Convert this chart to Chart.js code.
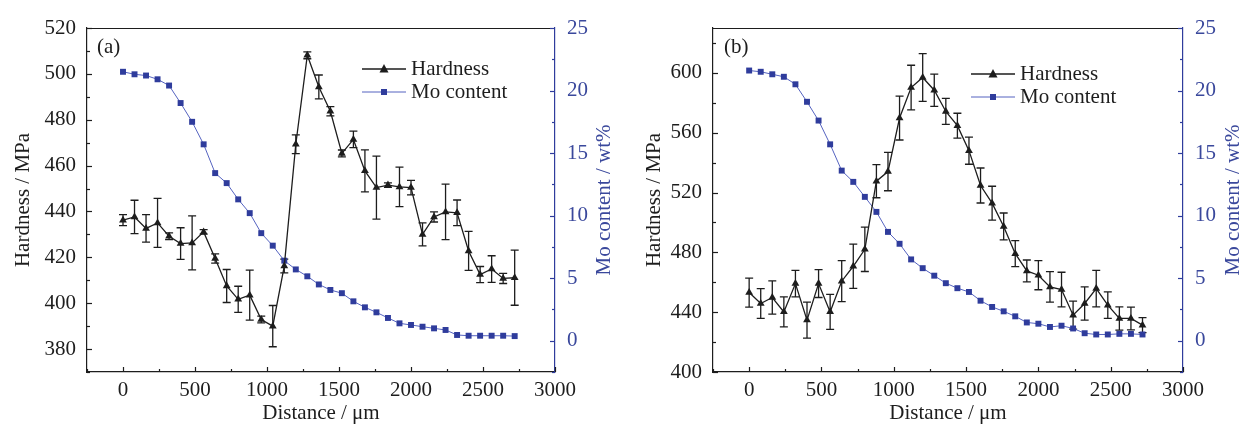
<!DOCTYPE html>
<html>
<head>
<meta charset="utf-8">
<title>Hardness and Mo content vs distance</title>
<script src="https://cdn.jsdelivr.net/npm/chart.js@4.4.1/dist/chart.umd.min.js"></script>
<style>
  html, body { margin: 0; padding: 0; background: #fff; }
  #wrap { position: relative; width: 1244px; height: 426px; overflow: hidden; }
  .panel { position: absolute; top: 0; width: 622px; height: 426px; }
  #panel-a { left: 0; }
  #panel-b { left: 622px; }
</style>
</head>
<body>
<div id="wrap">
  <div class="panel" id="panel-a"><canvas id="chart-a" width="622" height="426"></canvas></div>
  <div class="panel" id="panel-b"><canvas id="chart-b" width="622" height="426"></canvas></div>
</div>
<script>
// ---- data ----
const distance = [0, 80, 160, 240, 320, 400, 480, 560, 640, 720, 800, 880, 960, 1040, 1120,
  1200, 1280, 1360, 1440, 1520, 1600, 1680, 1760, 1840, 1920, 2000, 2080, 2160, 2240, 2320,
  2400, 2480, 2560, 2640, 2720];

// panel (a)
const hardnessA = [436.2, 437.6, 432.6, 435.0, 429.2, 426.0, 426.3, 431.1, 419.5, 407.5, 401.7,
  403.5, 392.9, 390.0, 416.2, 469.3, 508.1, 494.3, 483.7, 465.3, 471.4, 457.7, 450.4, 451.5,
  450.7, 450.4, 430.0, 437.6, 439.8, 439.4, 422.8, 412.5, 414.9, 410.8, 411.1];
const hardnessErrA = [2.4, 7.3, 6.0, 10.7, 1.5, 6.9, 11.8, 1.0, 2.0, 7.2, 5.7, 10.9, 1.5, 9.0,
  3.0, 4.1, 1.5, 5.2, 2.0, 1.5, 3.6, 9.2, 13.7, 1.0, 8.6, 3.2, 5.0, 2.2, 12.1, 5.6, 8.5, 3.5,
  5.8, 2.2, 12.0];
const moA = [21.5, 21.3, 21.2, 20.9, 20.4, 19.0, 17.5, 15.7, 13.4, 12.6, 11.3, 10.2, 8.6, 7.6,
  6.4, 5.7, 5.15, 4.5, 4.06, 3.8, 3.15, 2.67, 2.27, 1.82, 1.39, 1.26, 1.12, 0.99, 0.86, 0.46,
  0.4, 0.4, 0.4, 0.4, 0.37];

// panel (b)
const hardnessB = [453.1, 445.8, 449.8, 440.2, 459.1, 434.7, 459.1, 440.2, 460.7, 470.7, 482.0,
  527.6, 534.0, 569.8, 590.2, 596.9, 588.4, 574.2, 564.7, 548.0, 524.7, 512.9, 497.3, 479.1,
  467.6, 464.7, 456.9, 455.1, 438.0, 445.8, 455.8, 444.7, 435.8, 435.8, 431.3];
const hardnessErrB = [9.7, 10.0, 11.1, 10.0, 8.9, 12.0, 9.3, 11.7, 13.7, 14.8, 14.8, 11.1, 12.8,
  14.7, 14.9, 16.0, 10.8, 8.7, 8.3, 9.1, 11.7, 11.3, 9.0, 8.7, 7.3, 9.7, 10.2, 11.6, 9.4, 11.1,
  12.2, 8.9, 7.8, 7.6, 5.0];
const moB = [21.6, 21.5, 21.3, 21.1, 20.5, 19.1, 17.6, 15.7, 13.6, 12.7, 11.5, 10.3, 8.7, 7.75,
  6.5, 5.8, 5.2, 4.6, 4.2, 3.9, 3.2, 2.7, 2.35, 1.95, 1.46, 1.36, 1.1, 1.2, 0.98, 0.6, 0.5,
  0.5, 0.55, 0.55, 0.5];

// tick labels
const xTickValues = [0, 500, 1000, 1500, 2000, 2500, 3000];
const hardTicksA = [380, 400, 420, 440, 460, 480, 500, 520];
const hardTicksB = [400, 440, 480, 520, 560, 600];
const moTicks = [0, 5, 10, 15, 20, 25];

// ---- styling ----
const FONT = "'Liberation Serif', 'Times New Roman', serif";
const INK = "#1d1d1d";
const BLUE = "#2f3c9c";
const BLUE_LINE = "#5563c0";
const BLUE_TEXT = "#3a489c";

// error bars stored on the dataset (dataset.errors)
const errorBars = {
  id: "errorBars",
  beforeDatasetsDraw(chart) {
    const ctx = chart.ctx;
    chart.data.datasets.forEach((ds, di) => {
      if (!ds.errors) return;
      const meta = chart.getDatasetMeta(di);
      const ys = chart.scales[ds.yAxisID];
      ctx.save();
      ctx.strokeStyle = INK;
      ctx.lineWidth = 1.3;
      meta.data.forEach((pt, i) => {
        const v = ds.data[i].y, e = ds.errors[i];
        const top = ys.getPixelForValue(v + e), bot = ys.getPixelForValue(v - e);
        ctx.beginPath();
        ctx.moveTo(pt.x, top); ctx.lineTo(pt.x, bot);
        ctx.moveTo(pt.x - 4, top); ctx.lineTo(pt.x + 4, top);
        ctx.moveTo(pt.x - 4, bot); ctx.lineTo(pt.x + 4, bot);
        ctx.stroke();
      });
      ctx.restore();
    });
  },
};

// top border + inward major/minor tick marks
const frameTicks = {
  id: "frameTicks",
  afterDraw(chart, args, opts) {
    const { ctx, chartArea: a } = chart;
    ctx.save();
    ctx.lineWidth = 1.2;
    ctx.strokeStyle = INK;
    ctx.beginPath();
    ctx.moveTo(a.left, a.top + 0.5);
    ctx.lineTo(a.right, a.top + 0.5);
    ctx.stroke();
    Object.keys(opts.minor).forEach(id => {
      const s = chart.scales[id];
      const step = opts.minor[id];
      ctx.strokeStyle = id === "y1" ? BLUE : INK;
      for (let v = Math.ceil(s.min / step) * step; v <= s.max + 1e-9; v += step) {
        const major = s.ticks.some(t => Math.abs(t.value - v) < 1e-6);
        const len = major ? 5 : 3;
        const p = Math.round(s.getPixelForValue(v)) + 0.5;
        ctx.beginPath();
        if (id === "x") { ctx.moveTo(p, a.bottom); ctx.lineTo(p, a.bottom - len); }
        else if (id === "y") { ctx.moveTo(a.left, p); ctx.lineTo(a.left + len, p); }
        else { ctx.moveTo(a.right, p); ctx.lineTo(a.right - len, p); }
        ctx.stroke();
      }
    });
    ctx.restore();
  },
};

// panel letter, legend inside the plot, and the right-hand axis title
// (Chart.js turns right titles the other way, so it is drawn here)
const panelLegend = {
  id: "panelLegend",
  afterDraw(chart, args, opts) {
    const { ctx, chartArea: a } = chart;
    ctx.save();
    ctx.font = `21px ${FONT}`;
    ctx.textBaseline = "middle";
    ctx.fillStyle = INK;
    ctx.fillText(opts.label, opts.labelX, opts.labelY);
    chart.data.datasets.forEach((ds, i) => {
      const y = opts.y + i * opts.gap;
      const x0 = opts.x, x1 = opts.x + 44, cx = (x0 + x1) / 2;
      ctx.strokeStyle = ds.borderColor;
      ctx.lineWidth = ds.borderWidth;
      ctx.beginPath(); ctx.moveTo(x0, y); ctx.lineTo(x1, y); ctx.stroke();
      ctx.fillStyle = ds.pointBackgroundColor;
      ctx.beginPath();
      if (ds.pointStyle === "triangle") {
        ctx.moveTo(cx, y - 5); ctx.lineTo(cx + 4.5, y + 3.5); ctx.lineTo(cx - 4.5, y + 3.5);
      } else {
        ctx.rect(cx - 3, y - 3, 6, 6);
      }
      ctx.fill();
      ctx.fillStyle = INK;
      ctx.fillText(ds.label, x1 + 5, y);
    });

    ctx.translate(opts.rightTitleX, (a.top + a.bottom) / 2);
    ctx.rotate(-Math.PI / 2);
    ctx.textAlign = "center";
    ctx.fillStyle = BLUE_TEXT;
    ctx.fillText("Mo content / wt%", 0, 0);
    ctx.restore();
  },
};

function setTicks(values) {
  return scale => { scale.ticks = values.map(v => ({ value: v })); };
}

function buildChart(canvasId, p) {
  const tickFont = { family: FONT, size: 21 };
  return new Chart(document.getElementById(canvasId), {
    type: "line",
    data: {
      datasets: [
        {
          label: "Hardness",
          data: distance.map((d, i) => ({ x: d, y: p.hardness[i] })),
          errors: p.errors,
          yAxisID: "y",
          borderColor: INK,
          borderWidth: 1.3,
          pointStyle: "triangle",
          pointRadius: 4.5,
          pointBackgroundColor: INK,
          pointBorderColor: INK,
          pointBorderWidth: 0,
          order: 0,
        },
        {
          label: "Mo content",
          data: distance.map((d, i) => ({ x: d, y: p.mo[i] })),
          yAxisID: "y1",
          borderColor: BLUE_LINE,
          borderWidth: 1,
          pointStyle: "rect",
          pointRadius: 4.2,
          pointBackgroundColor: BLUE,
          pointBorderColor: BLUE,
          pointBorderWidth: 0,
          order: 1,
        },
      ],
    },
    options: {
      responsive: false,
      animation: false,
      events: [],
      layout: { padding: { top: 28, left: 0, right: 0, bottom: 0 } },
      plugins: {
        legend: { display: false },
        tooltip: { enabled: false },
        frameTicks: { minor: { x: 250, y: p.hardMinor, y1: 2.5 } },
        panelLegend: p.legend,
      },
      scales: {
        x: {
          type: "linear",
          min: -250,
          max: 3000,
          afterBuildTicks: setTicks(xTickValues),
          afterFit: s => { s.height = 54; },
          grid: { display: false, drawTicks: false },
          border: { display: true, color: INK, width: 1.2 },
          ticks: { font: tickFont, color: INK, padding: 6, maxRotation: 0, callback: v => String(v) },
          title: {
            display: true, text: "Distance / μm", color: INK,
            font: { family: FONT, size: 21 }, padding: { top: 0, bottom: 0 },
          },
        },
        y: {
          position: "left",
          min: p.hardMin,
          max: p.hardMax,
          afterBuildTicks: setTicks(p.hardTicks),
          afterFit: s => { s.width = p.leftWidth; },
          grid: { display: false, drawTicks: false },
          border: { display: true, color: INK, width: 1.2 },
          ticks: { font: tickFont, color: INK, padding: 11, callback: v => String(v) },
          title: {
            display: true, text: "Hardness / MPa", color: INK,
            font: { family: FONT, size: 21 }, padding: { top: p.leftTitlePad, bottom: 0 },
          },
        },
        y1: {
          position: "right",
          min: -2.5,
          max: 25,
          afterBuildTicks: setTicks(moTicks),
          afterFit: s => { s.width = p.rightWidth; },
          grid: { display: false, drawTicks: false },
          border: { display: true, color: BLUE, width: 1.2 },
          ticks: { font: tickFont, color: BLUE_TEXT, padding: 12, callback: v => String(v) },
          title: { display: false },
        },
      },
    },
    plugins: [errorBars, frameTicks, panelLegend],
  });
}

buildChart("chart-a", {
  hardness: hardnessA, errors: hardnessErrA, mo: moA,
  hardMin: 370, hardMax: 520, hardTicks: hardTicksA, hardMinor: 10,
  leftWidth: 87, rightWidth: 67, leftTitlePad: 11,
  legend: { label: "(a)", labelX: 97, labelY: 47, x: 362, y: 69, gap: 23, rightTitleX: 604 },
});

buildChart("chart-b", {
  hardness: hardnessB, errors: hardnessErrB, mo: moB,
  hardMin: 400, hardMax: 630, hardTicks: hardTicksB, hardMinor: 20,
  leftWidth: 91, rightWidth: 61, leftTitlePad: 20,
  legend: { label: "(b)", labelX: 102, labelY: 47, x: 349, y: 74, gap: 23, rightTitleX: 611 },
});
</script>
</body>
</html>
